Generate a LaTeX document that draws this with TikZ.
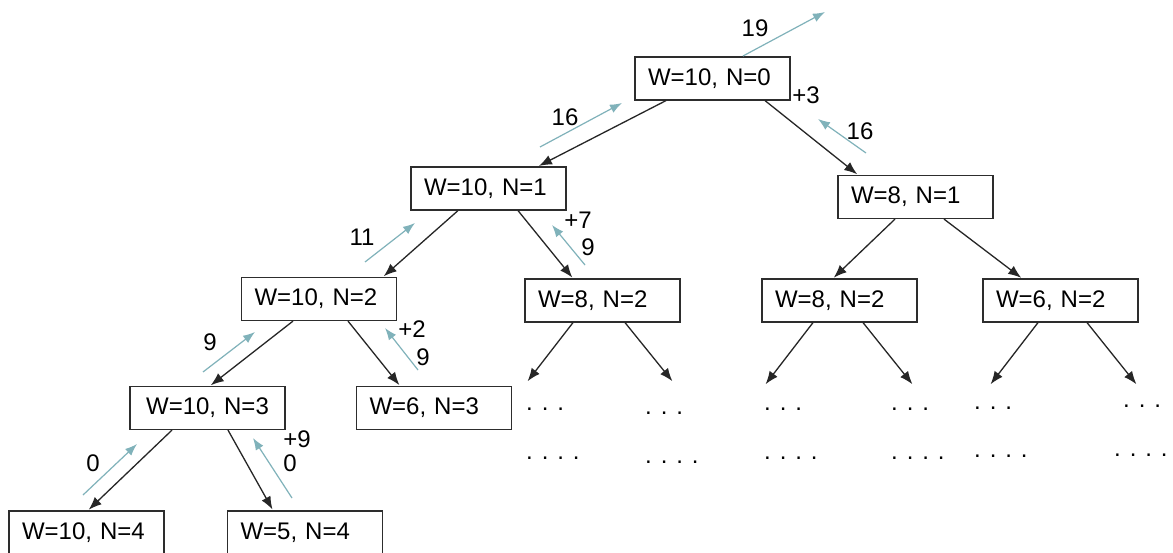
\documentclass[tikz,border=0pt]{standalone}
\usepackage{fontspec}
\setmainfont{Liberation Sans}
\usetikzlibrary{arrows.meta}
\definecolor{tealc}{RGB}{128,178,186}
\definecolor{boxc}{RGB}{45,45,45}
\begin{document}
\begin{tikzpicture}[x=1pt,y=-1pt,
  box/.style={draw=boxc, line width=1.2pt, minimum height=43pt, text width=129pt,
    inner xsep=13pt, inner ysep=0pt, align=left, font=\fontsize{24}{28}\selectfont},
  lbl/.style={font=\fontsize{24}{28}\selectfont, inner sep=0pt},
  dots/.style={font=\fontsize{24}{28}\selectfont, inner sep=0pt, anchor=west},
  arr/.style={draw=black!85, line width=1.3pt, shorten >=1pt, -{Latex[length=13pt,width=10pt]}},
  tarr/.style={draw=tealc, line width=1.2pt, -{Latex[length=12pt,width=9pt]}},
]
\fill[white] (0,0) rectangle (1173,553);
\useasboundingbox (0,0) rectangle (1173,553);

% boxes
\node[box] (n0) at (712.5,78.5) {W=10, N=0};
\node[box] (n1) at (488.5,188.5) {W=10, N=1};
\node[box] (m1) at (915.5,197) {W=8, N=1};
\node[box] (n2) at (319,299) {W=10, N=2};
\node[box] (a2) at (602.5,300.5) {W=8, N=2};
\node[box] (b2) at (839.5,300.5) {W=8, N=2};
\node[box] (c2) at (1060.5,300.5) {W=6, N=2};
\node[box, align=center] (n3) at (207.5,408) {W=10, N=3};
\node[box] (d3) at (434,408) {W=6, N=3};
\node[box] (n4) at (86.5,532.5) {W=10, N=4};
\node[box] (e4) at (305,532.5) {W=5, N=4};

% black connectors
\draw[arr] ([xshift=-46.5pt]n0.south) -- ([xshift=49.5pt]n1.north);
\draw[arr] ([xshift=52.5pt]n0.south) -- ([xshift=-57.5pt]m1.north);
\draw[arr] ([xshift=-30.5pt]n1.south) -- ([xshift=64pt]n2.north);
\draw[arr] ([xshift=29.5pt]n1.south) -- ([xshift=-29.5pt]a2.north);
\draw[arr] ([xshift=-20.5pt]m1.south) -- ([xshift=-6.5pt]b2.north);
\draw[arr] ([xshift=28.5pt]m1.south) -- ([xshift=-38.5pt]c2.north);
\draw[arr] ([xshift=-26pt]n2.south) -- ([xshift=2.5pt]n3.north);
\draw[arr] ([xshift=29pt]n2.south) -- ([xshift=-34pt]d3.north);
\draw[arr] ([xshift=-35.5pt]n3.south) -- ([xshift=1.5pt]n4.north);
\draw[arr] ([xshift=20.5pt]n3.south) -- ([xshift=-32pt]e4.north);

% dots and their arrows
\coordinate (t1) at (527,382);
\coordinate (t2) at (673,382);
\coordinate (t3) at (765,385);
\coordinate (t4) at (913,385);
\coordinate (t5) at (990,385);
\coordinate (t6) at (1137,385);
\draw[arr] ([xshift=-29.5pt]a2.south) -- (t1);
\draw[arr] ([xshift=22.5pt]a2.south) -- (t2);
\draw[arr] ([xshift=-26.5pt]b2.south) -- (t3);
\draw[arr] ([xshift=23.5pt]b2.south) -- (t4);
\draw[arr] ([xshift=-22.5pt]c2.south) -- (t5);
\draw[arr] ([xshift=26.5pt]c2.south) -- (t6);

\node[dots] (p1) at (526,409) {. . .};
\node[dots] (q1) at (526,458) {. . . .};
\node[dots] (p2) at (645,413) {. . .};
\node[dots] (q2) at (645,462) {. . . .};
\node[dots] (p3) at (764,409) {. . .};
\node[dots] (q3) at (764,458) {. . . .};
\node[dots] (p4) at (891,409) {. . .};
\node[dots] (q4) at (891,458) {. . . .};
\node[dots] (p5) at (974,408) {. . .};
\node[dots] (q5) at (974,456) {. . . .};
\node[dots] (p6) at (1123,406) {. . .};
\node[dots] (q6) at (1114,455) {. . . .};

% teal return arrows
\coordinate (s19) at (743,56);  \coordinate (e19) at (825,12);
\coordinate (sL16) at (540,147); \coordinate (eL16) at (622,103);
\coordinate (sR16) at (866,153); \coordinate (eR16) at (818,119);
\coordinate (s11) at (365,262); \coordinate (e11) at (415,223);
\coordinate (s7) at (585,265);  \coordinate (e7) at (552,225);
\coordinate (s9a) at (203,372); \coordinate (e9a) at (255,332);
\coordinate (s2) at (418,370);  \coordinate (e2) at (385,328);
\coordinate (s0a) at (83,495);  \coordinate (e0a) at (137,444);
\coordinate (s0b) at (292,498); \coordinate (e0b) at (253,438);
\draw[tarr] (s19) -- (e19);
\draw[tarr] (sL16) -- (eL16);
\draw[tarr] (sR16) -- (eR16);
\draw[tarr] (s11) -- (e11);
\draw[tarr] (s7) -- (e7);
\draw[tarr] (s9a) -- (e9a);
\draw[tarr] (s2) -- (e2);
\draw[tarr] (s0a) -- (e0a);
\draw[tarr] (s0b) -- (e0b);

% labels
\node[lbl] (l19) at (755,28) {19};
\node[lbl] (lL16) at (565,117) {16};
\node[lbl] (lp3) at (806,95) {+3};
\node[lbl] (lR16) at (860,131) {16};
\node[lbl] (l11) at (362,237) {11};
\node[lbl] (lp7) at (578,220) {+7};
\node[lbl] (l9b) at (588,247) {9};
\node[lbl] (l9a) at (210,342) {9};
\node[lbl] (lp2) at (412,329) {+2};
\node[lbl] (l9c) at (423,357) {9};
\node[lbl] (l0a) at (93,463) {0};
\node[lbl] (lp9) at (297,439) {+9};
\node[lbl] (l0b) at (290,463) {0};
\end{tikzpicture}
\end{document}
